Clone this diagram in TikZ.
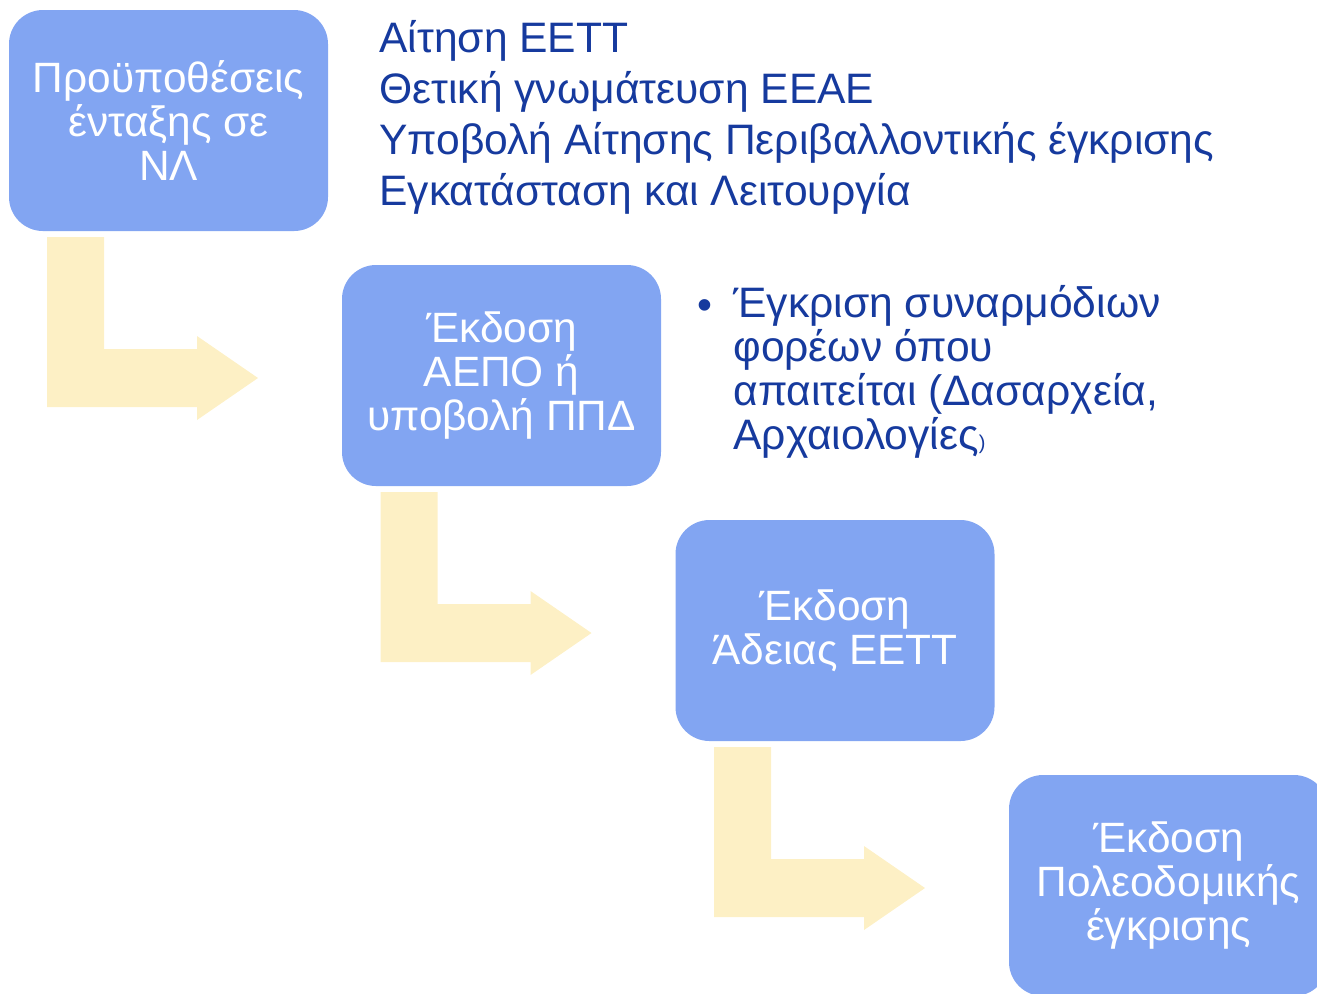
\documentclass[tikz,border=0pt]{standalone}
\usepackage{fontspec}
\setmainfont{Liberation Sans}
\definecolor{boxblue}{RGB}{130,165,242}
\definecolor{arrowyellow}{RGB}{253,240,197}
\definecolor{textblue}{RGB}{22,58,158}
\tikzset{
  stepbox/.style={fill=boxblue,rounded corners=17pt,minimum width=159.5pt,minimum height=110.5pt,
    inner sep=0pt,align=center,text=white,font=\fontsize{21.2}{22}\selectfont},
  bentarrow/.style={fill=arrowyellow}
}
\begin{document}
\begin{tikzpicture}[x=0.5pt,y=-0.5pt]
\clip (0,0) rectangle (1317,993);
% bent arrows between the steps
\foreach \dx/\dy in {0/0,333.5/255,667/510}
  \fill[bentarrow,shift={(\dx,\dy)}] (47,237)--(104,237)--(104,349)--(197,349)--(197,336)--(258,378)--(197,420)--(197,407)--(47,407)--cycle;
% steps
\node[stepbox] (prereq) at (168.5,120.5) {Προϋποθέσεις\\ένταξης σε\\ΝΛ};
\node[stepbox] (aepo) at (501.5,375.5) {Έκδοση\\ΑΕΠΟ ή\\υποβολή ΠΠΔ};
\node[stepbox] (eett) at (835,630.5) {Έκδοση\\Άδειας ΕΕΤΤ};
\node[stepbox] (poleod) at (1168.5,885.5) {Έκδοση\\Πολεοδομικής\\έγκρισης};
% notes (base = last line)
\node[anchor=base west,inner sep=0pt,align=left,text=textblue,font=\fontsize{21.3}{25.5}\selectfont] (reqlist) at (379,205)
  {Αίτηση ΕΕΤΤ\\Θετική γνωμάτευση ΕΕΑΕ\\Υποβολή Αίτησης Περιβαλλοντικής έγκρισης\\Εγκατάσταση και Λειτουργία};
\node[anchor=base west,inner sep=0pt,text=textblue,font=\fontsize{21.3}{22}\selectfont] (bullet) at (697,319) {\textbullet};
\node[anchor=base west,inner sep=0pt,align=left,text=textblue,font=\fontsize{21.3}{22}\selectfont] (approvals) at (733,449)
  {Έγκριση συναρμόδιων\\φορέων όπου\\απαιτείται (Δασαρχεία,\\Αρχαιολογίες{\fontsize{10}{10}\selectfont)}};
\end{tikzpicture}
\end{document}
